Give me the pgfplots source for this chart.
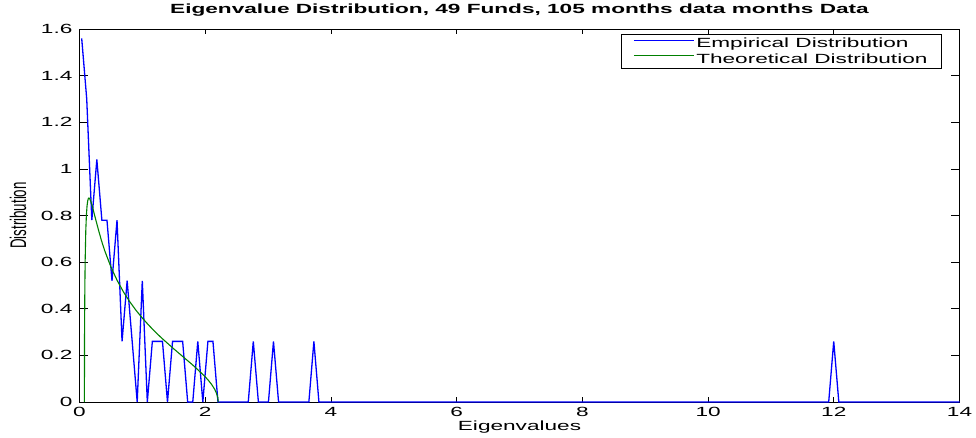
\documentclass[border=0pt]{standalone}
\usepackage{fontspec}
\setmainfont[FakeStretch=1.7]{Liberation Sans}
\newfontfamily\ylabfont{Liberation Sans}
\usepackage{graphicx}
\usepackage{pgfplots}
\pgfplotsset{compat=1.18}
\begin{document}
\begin{tikzpicture}[x=1pt,y=1pt]
\useasboundingbox (-79.5,-35) rectangle (896.5,402);
\begin{axis}[
  at={(0pt,0pt)}, anchor=south west,
  scale only axis, width=880pt, height=373pt,
  xmin=0, xmax=14, ymin=0, ymax=1.6,
  xtick={0,2,4,6,8,10,12,14},
  ytick={0,0.2,0.4,0.6,0.8,1,1.2,1.4,1.6},
  yticklabels={0,0.2,0.4,0.6,0.8,1,1.2,1.4,1.6},
  xticklabels={0,2,4,6,8,10,12,14},
  tick align=inside,
  xtick style={/pgfplots/major tick length=5pt},
  ytick style={/pgfplots/major tick length=8.5pt},
  tick style={black, line width=0.6pt},
  axis line style={black, line width=0.8pt},
  clip=false,
  /pgf/number format/assume math mode=true,
  every tick label/.append style={font=\fontsize{13.3}{16}\selectfont},
  yticklabel style={xshift=-3.6pt},
  xticklabel style={yshift=-1.5pt},
  title={Eigenvalue Distribution, 49 Funds, 105 months data months Data},
  title style={at={(axis description cs:0.5,1)}, anchor=base, yshift=9.5pt, font=\bfseries\fontsize{13.3}{16}\selectfont},
  xlabel={Eigenvalues},
  xlabel style={at={(axis description cs:0.5,0)}, anchor=base, yshift=-28.7pt, font=\fontsize{13.3}{16}\selectfont},
  ylabel={\ylabfont\scalebox{1}[1.7]{Distribution}},
  ylabel style={at={(axis description cs:-0.0699,0.5)}, anchor=center, rotate=0, font=\fontsize{13.3}{16}\selectfont},
  legend style={at={(0.980,0.9866)}, anchor=north east, draw=black, line width=0.8pt, fill=white,
    inner xsep=12pt, inner ysep=1.5pt, font=\fontsize{13.3}{15}\selectfont,
    cells={anchor=west}, row sep=0.5pt,
    /tikz/every even column/.append style={column sep=5pt}},
  legend image code/.code={\draw[#1, line width=0.7pt] (0pt,3.5pt) -- (60pt,3.5pt);},
]
\addplot[blue, line width=1.3pt] coordinates {
(0.035,1.56) (0.115,1.30) (0.196,0.78) (0.276,1.04) (0.356,0.78) (0.437,0.78)
(0.517,0.52) (0.597,0.78) (0.677,0.26) (0.758,0.52) (0.838,0.26) (0.918,0)
(0.999,0.52) (1.079,0) (1.159,0.26) (1.240,0.26) (1.320,0.26) (1.400,0)
(1.480,0.26) (1.561,0.26) (1.641,0.26) (1.721,0) (1.802,0) (1.882,0.26)
(1.962,0) (2.043,0.26) (2.123,0.26) (2.203,0) (2.685,0) (2.765,0.26)
(2.846,0) (3.006,0) (3.086,0.26) (3.167,0) (3.649,0) (3.729,0.26) (3.809,0)
(11.919,0) (11.999,0.26) (12.080,0) (14,0)
};
\addlegendentry{Empirical Distribution}
\addplot[color={rgb,1:red,0;green,0.5;blue,0}, line width=1.1pt] coordinates {
(0.078,0) (0.080,0.278) (0.085,0.489) (0.090,0.604) (0.100,0.734) (0.110,0.803)
(0.120,0.841) (0.130,0.862) (0.140,0.872) (0.150,0.875) (0.160,0.873) (0.180,0.861)
(0.200,0.844) (0.250,0.791) (0.300,0.740) (0.350,0.692) (0.400,0.650) (0.500,0.579)
(0.600,0.521) (0.700,0.472) (0.800,0.430) (0.900,0.393) (1.000,0.360) (1.100,0.330)
(1.200,0.302) (1.300,0.276) (1.400,0.252) (1.500,0.228) (1.600,0.205) (1.700,0.182)
(1.800,0.159) (1.900,0.134) (2.000,0.108) (2.050,0.093) (2.100,0.076) (2.150,0.055)
(2.180,0.037) (2.200,0.019) (2.207,0)
};
\addlegendentry{Theoretical Distribution}
\end{axis}
\end{tikzpicture}
\end{document}
